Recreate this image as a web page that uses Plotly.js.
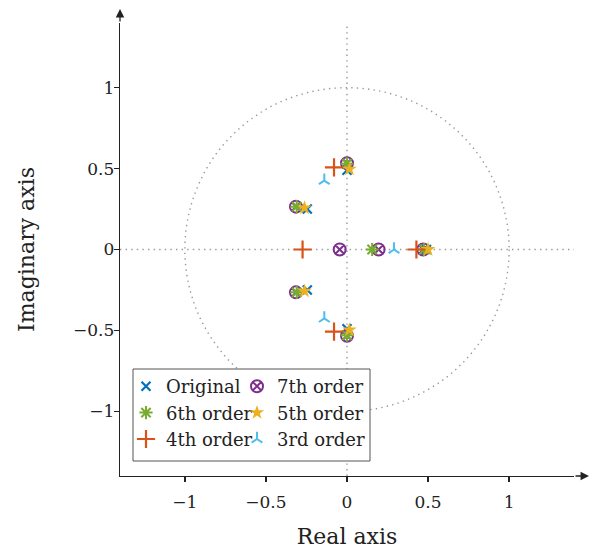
<!DOCTYPE html>
<html><head><meta charset="utf-8">
<script src="https://cdn.plot.ly/plotly-3.0.1.min.js"></script>
<style>html,body{margin:0;padding:0;background:#fff}</style>
</head><body><div id="chart" style="width:593px;height:552px"></div>
<script>
// ---- data (poles) ----
const originalRe = [0, 0, -0.245, -0.245, 0.49];
const originalIm = [0.49, -0.49, 0.25, -0.25, 0];
const order7Re = [0, 0, -0.315, -0.315, -0.045, 0.195, 0.47];
const order7Im = [0.533, -0.533, 0.265, -0.265, 0, 0, 0];
const order6Re = [0, 0, -0.31, -0.31, 0.155, 0.475];
const order6Im = [0.53, -0.53, 0.265, -0.265, 0, 0];
const order5Re = [0.015, 0.015, -0.262, -0.262, 0.5];
const order5Im = [0.497, -0.497, 0.257, -0.257, 0];
const order4Re = [-0.08, -0.08, -0.274, 0.428];
const order4Im = [0.508, -0.508, 0, 0];
const order3Re = [-0.14, -0.14, 0.29];
const order3Im = [0.426, -0.426, 0];
const seriesNames = ['Original', '7th order', '6th order', '5th order', '4th order', '3rd order'];
const tickVals = [-1, -0.5, 0, 0.5, 1];

// ---- layout geometry ----
const W = 593, H = 552, L = 120, R = 19, T = 23, B = 76;
const pw = W - L - R, ph = H - T - B;
const px = xp => (xp - L) / pw;
const py = yp => (H - B - yp) / ph;
const FONT = 'DejaVu Serif';
const INK = '#222';

function mk(x, y, name, legend, symbol, color, size, lw) {
  return {
    type: 'scatter', mode: 'markers', x: x, y: y, name: name, legend: legend,
    cliponaxis: false,
    marker: { symbol: symbol, size: size, color: color,
              line: { color: color, width: lw } }
  };
}

const traces = [
  mk(originalRe, originalIm, seriesNames[0], 'legend', 'x-thin', '#0072BD', 9, 2.2),
  mk(order7Re, order7Im, seriesNames[1], 'legend2', 'circle-x-open', '#7E2F8E', 12, 2),
  mk(order6Re, order6Im, seriesNames[2], 'legend', 'asterisk-open', '#77AC30', 11, 2),
  mk(order5Re, order5Im, seriesNames[3], 'legend2', 'star', '#EDB120', 11, 0),
  mk(order4Re, order4Im, seriesNames[4], 'legend', 'cross-thin', '#D95319', 13, 2.2),
  mk(order3Re, order3Im, seriesNames[5], 'legend2', 'y-up', '#4DBEEE', 9, 2)
];

const axBase = {
  range: [-1.4, 1.4], showgrid: false, zeroline: false,
  tickvals: tickVals, tickcolor: INK, tickwidth: 1.3, ticklen: 5
};

const dotted = { color: '#999', width: 1.4, dash: '1.4px,4.2px' };

const layout = {
  width: W, height: H,
  margin: { l: L, r: R, t: T, b: B, pad: 0 },
  paper_bgcolor: '#fff', plot_bgcolor: '#fff',
  font: { family: FONT, color: INK },
  showlegend: true,
  xaxis: Object.assign({}, axBase, {
    showline: true, linecolor: INK, linewidth: 1.3, ticks: 'outside',
    ticklabelstandoff: 5,
    tickfont: { family: FONT, size: 17, color: INK },
    title: { text: 'Real axis', font: { family: FONT, size: 22, color: INK }, standoff: 18 }
  }),
  yaxis: Object.assign({}, axBase, {
    showline: true, linecolor: INK, linewidth: 1.3, ticks: 'outside',
    ticklabelstandoff: -4,
    tickfont: { family: FONT, size: 17, color: INK },
    title: { text: 'Imaginary axis', font: { family: FONT, size: 22, color: INK }, standoff: 32 }
  }),
  xaxis2: Object.assign({}, axBase, {
    overlaying: 'x', anchor: 'y', side: 'bottom', ticks: 'inside',
    showticklabels: false, showline: false
  }),
  yaxis2: Object.assign({}, axBase, {
    overlaying: 'y', anchor: 'x', side: 'left', ticks: 'inside',
    showticklabels: false, showline: false
  }),
  legend: {
    x: px(126), y: py(368), xanchor: 'left', yanchor: 'top',
    bgcolor: 'rgba(0,0,0,0)', borderwidth: 0, itemwidth: 30, tracegroupgap: 0,
    font: { family: FONT, size: 18, color: INK }
  },
  legend2: {
    x: px(237), y: py(368), xanchor: 'left', yanchor: 'top',
    bgcolor: 'rgba(0,0,0,0)', borderwidth: 0, itemwidth: 30, tracegroupgap: 0,
    font: { family: FONT, size: 18, color: INK }
  },
  shapes: [
    { type: 'circle', xref: 'x', yref: 'y', x0: -1, x1: 1, y0: -1, y1: 1, line: dotted, layer: 'below' },
    { type: 'line', xref: 'x', yref: 'y', x0: -1.4, x1: 1.4, y0: 0, y1: 0, line: dotted, layer: 'below' },
    { type: 'line', xref: 'x', yref: 'y', x0: 0, x1: 0, y0: -1.4, y1: 1.38, line: dotted, layer: 'below' },
    { type: 'rect', xref: 'paper', yref: 'paper', x0: px(133), x1: px(370), y0: py(461), y1: py(369),
      fillcolor: '#fff', line: { color: '#555', width: 1 }, layer: 'above' }
  ],
  annotations: [
    { xref: 'paper', yref: 'paper', x: px(589), y: 0, ax: -(589 - (L + pw)), ay: 0,
      axref: 'pixel', ayref: 'pixel', text: '', showarrow: true, arrowhead: 2, arrowsize: 1.3,
      arrowwidth: 1.3, arrowcolor: INK, standoff: 0 },
    { xref: 'paper', yref: 'paper', x: 0, y: py(9), ax: 0, ay: (T - 9),
      axref: 'pixel', ayref: 'pixel', text: '', showarrow: true, arrowhead: 2, arrowsize: 1.3,
      arrowwidth: 1.3, arrowcolor: INK, standoff: 0 }
  ]
};

Plotly.newPlot('chart', traces, layout, { displayModeBar: false, staticPlot: true });
</script>
</body></html>
